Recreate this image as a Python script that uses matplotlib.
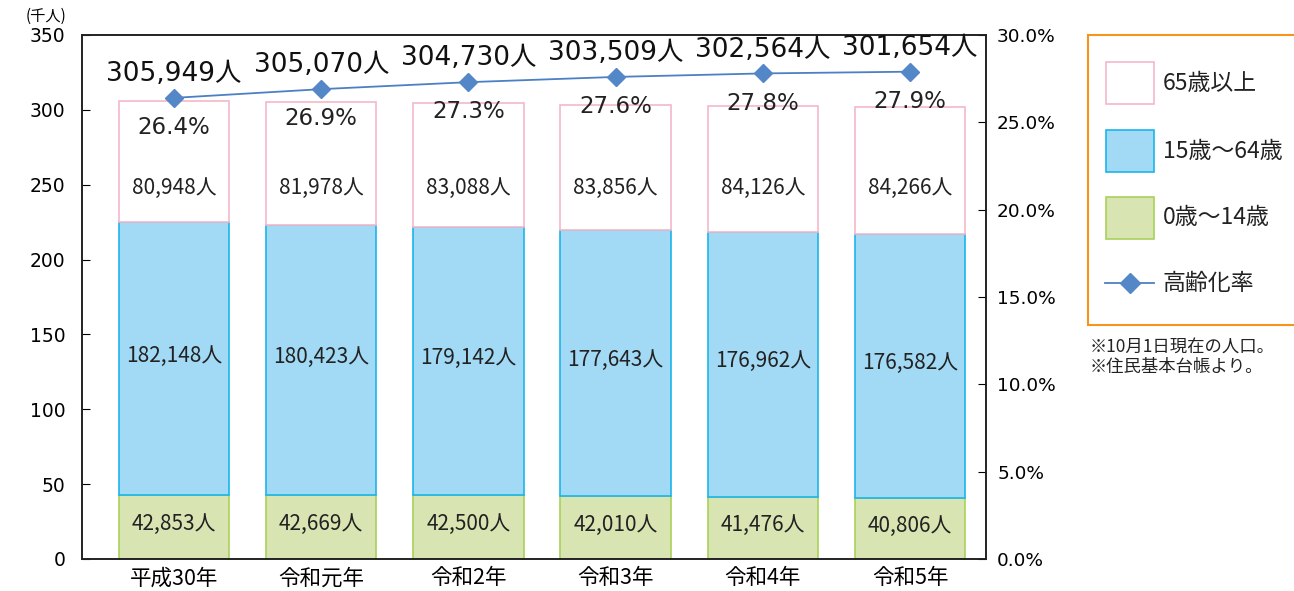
import matplotlib
matplotlib.use("Agg")
import matplotlib.pyplot as plt
from matplotlib.patches import Rectangle
from matplotlib.lines import Line2D
import numpy as np

plt.rcParams['font.family'] = ['Noto Sans CJK JP', 'DejaVu Sans']
NUMFONT = ['DejaVu Sans', 'Noto Sans CJK JP']

categories = ["平成30年", "令和元年", "令和2年", "令和3年", "令和4年", "令和5年"]
age_0_14 = [42853, 42669, 42500, 42010, 41476, 40806]
age_15_64 = [182148, 180423, 179142, 177643, 176962, 176582]
age_65_plus = [80948, 81978, 83088, 83856, 84126, 84266]
totals = [305949, 305070, 304730, 303509, 302564, 301654]
aging_rate = [26.4, 26.9, 27.3, 27.6, 27.8, 27.9]
series_labels = ["65歳以上", "15歳～64歳", "0歳～14歳", "高齢化率"]

W, H = 1294, 591
fig = plt.figure(figsize=(W / 100, H / 100), dpi=100)

def fx(x):
    return x / W

def fy(y):
    return 1 - y / H

ax = fig.add_axes([fx(82), fy(559), fx(986) - fx(82), fy(35) - fy(559)])
ax2 = ax.twinx()

pink_edge = "#F5B8CB"
blue_face = "#A2D9F4"
blue_edge = "#1BB5EA"
green_face = "#D8E5B2"
green_edge = "#A9D15A"
line_col = "#4C80C4"
mark_col = "#5487C8"

x = np.arange(len(categories))
bw = 0.75
a = np.array(age_0_14) / 1000
b = np.array(age_15_64) / 1000
c = np.array(age_65_plus) / 1000

ax.bar(x, a, bw, color=green_face, edgecolor=green_edge, linewidth=1.2, zorder=2)
ax.bar(x, b, bw, bottom=a, color=blue_face, edgecolor=blue_edge, linewidth=1.2, zorder=2)
ax.bar(x, c, bw, bottom=a + b, color="white", edgecolor=pink_edge, linewidth=1.2, zorder=2)

for i in range(len(x)):
    ax.text(x[i], a[i] / 2 + 2, f"{age_0_14[i]:,}人", ha="center", va="center", fontsize=15, color="#222222", zorder=5)
    ax.text(x[i], a[i] + b[i] / 2 + 2, f"{age_15_64[i]:,}人", ha="center", va="center", fontsize=15, color="#222222", zorder=5)
    ax.text(x[i], 248, f"{age_65_plus[i]:,}人", ha="center", va="center", fontsize=15, color="#222222", zorder=5)

ax.set_xlim(-0.625, 5.516)
ax.set_ylim(0, 350)
ax.set_yticks(np.arange(0, 351, 50))
ax.set_xticks(x)
ax.set_xticklabels(categories, fontsize=15.5)
ax.tick_params(axis="y", direction="in", length=6, labelsize=13.5, pad=12)
ax.tick_params(axis="x", length=0, pad=6)
for lbl in ax.get_yticklabels():
    lbl.set_fontfamily(['DejaVu Sans'])

ax2.plot(x, aging_rate, color=line_col, linewidth=1.3, marker="D", markersize=9,
         markerfacecolor=mark_col, markeredgecolor=mark_col, zorder=6)
ax2.set_ylim(0, 30)
ax2.set_yticks(np.arange(0, 31, 5))
ax2.set_yticklabels([f"{v:.1f}%" for v in np.arange(0, 31, 5)], fontfamily=['DejaVu Sans'])
ax2.tick_params(axis="y", direction="in", length=6, labelsize=13.3, pad=8)

for i in range(len(x)):
    ax2.annotate(f"{totals[i]:,}人", (x[i], aging_rate[i]), xytext=(0, 12),
                 textcoords="offset points", ha="center", va="baseline", fontsize=19,
                 color="#111111", zorder=7, fontfamily=NUMFONT)
    ax2.annotate(f"{aging_rate[i]:.1f}%", (x[i], aging_rate[i]), xytext=(0, -26),
                 textcoords="offset points", ha="center", va="baseline", fontsize=16.5,
                 color="#222222", zorder=7, fontfamily=['DejaVu Sans'])

for sp in list(ax.spines.values()) + list(ax2.spines.values()):
    sp.set_linewidth(1.2)
    sp.set_color("#222222")

fig.text(fx(46), fy(16), "(千人)", ha="center", va="center", fontsize=11)

# legend box
fig.patches.append(Rectangle((fx(1088), fy(325)), fx(1300) - fx(1088), fy(35) - fy(325),
                             transform=fig.transFigure, facecolor="white", edgecolor="#F7941D", linewidth=1.5))
fig.patches.append(Rectangle((fx(1106), fy(104)), fx(48), fy(0) - fy(42), transform=fig.transFigure,
                             facecolor="white", edgecolor=pink_edge, linewidth=1.2))
fig.patches.append(Rectangle((fx(1106), fy(172)), fx(48), fy(0) - fy(42), transform=fig.transFigure,
                             facecolor=blue_face, edgecolor=blue_edge, linewidth=1.2))
fig.patches.append(Rectangle((fx(1106), fy(239)), fx(48), fy(0) - fy(42), transform=fig.transFigure,
                             facecolor=green_face, edgecolor=green_edge, linewidth=1.2))
fig.lines.append(Line2D([fx(1105), fx(1154)], [fy(283), fy(283)], transform=fig.transFigure,
                        color=line_col, linewidth=1.3))
fig.lines.append(Line2D([fx(1130)], [fy(283)], transform=fig.transFigure, marker="D", markersize=10,
                        markerfacecolor=mark_col, markeredgecolor=mark_col, linestyle="none"))
for lab, yy in zip(series_labels, [83, 151, 218, 283]):
    fig.text(fx(1163), fy(yy), lab, ha="left", va="center", fontsize=16.5, color="#222222")

fig.text(fx(1090), fy(347), "※10月1日現在の人口。", ha="left", va="center", fontsize=12.5, color="#222222")
fig.text(fx(1090), fy(367), "※住民基本台帳より。", ha="left", va="center", fontsize=12.5, color="#222222")

fig.savefig("out.png", dpi=100, facecolor="white")
